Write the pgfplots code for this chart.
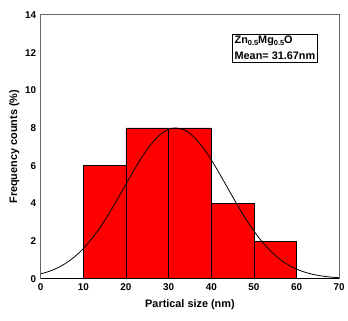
\documentclass[border=0pt]{standalone}
\usepackage{pgfplots}
\pgfplotsset{compat=1.18}
\usepackage{fontspec}
\setmainfont{Liberation Sans}
\newcommand{\sub}[1]{\raisebox{-2.2pt}{\fontsize{7.5}{8}\selectfont #1}}
\begin{document}
\begin{tikzpicture}[x=1bp,y=1bp]
\begin{axis}[
  name=ax,
  scale only axis,
  width=301bp, height=266bp,
  xmin=0, xmax=70, ymin=0, ymax=14,
  xtick={0,10,...,70}, ytick={0,2,...,14},
  major tick length=0pt,
  axis line style={draw=gray!80!black, line width=1pt},
  /pgf/number format/assume math mode=true,
  tick label style={font=\fontsize{10}{11}\selectfont\bfseries},
  xticklabel style={yshift=-1pt},
  yticklabel style={xshift=-1pt},
  xlabel={Partical size (nm)},
  ylabel={Frequency counts (\%)},
  label style={font=\fontsize{11}{12}\selectfont\bfseries},
  xlabel style={yshift=-3pt},
  ylabel style={yshift=-1pt},
  clip=false,
]
\addplot[ybar interval, fill=red, draw=black, line width=0.7pt] coordinates {
  (10,6) (20,8) (30,8) (40,4) (50,2) (60,2)
};
\addplot[black, line width=0.8pt, smooth, mark=none] coordinates {
(0,0.258) (2,0.391) (4,0.580) (6,0.837) (8,1.173) (10,1.600) (12,2.125)
(14,2.744) (16,3.449) (18,4.217) (20,5.017) (22,5.807) (24,6.539) (26,7.166)
(28,7.639) (30,7.924) (31.67,8.0) (34,7.853) (36,7.502) (38,6.973) (40,6.307)
(42,5.550) (44,4.751) (46,3.958) (48,3.208) (50,2.530) (52,1.941) (54,1.449)
(56,1.052) (58,0.743) (60,0.511) (62,0.342) (64,0.223) (66,0.141) (68,0.087) (70,0.052)
};
\draw[black, line width=1.2pt] (rel axis cs:0,0) -- (rel axis cs:1,0);
\node[draw=black, line width=0.6pt, anchor=north west, align=left, inner sep=2.2pt,
  font=\fontsize{11}{16}\selectfont\bfseries] at (axis cs:44.9,13.0)
  {Zn\sub{0.5}Mg\sub{0.5}O\\Mean= 31.67nm};
\end{axis}
\path (ax.south west) ++(-41bp,-42bp) (ax.north east) ++(6bp,15bp);
\end{tikzpicture}
\end{document}
